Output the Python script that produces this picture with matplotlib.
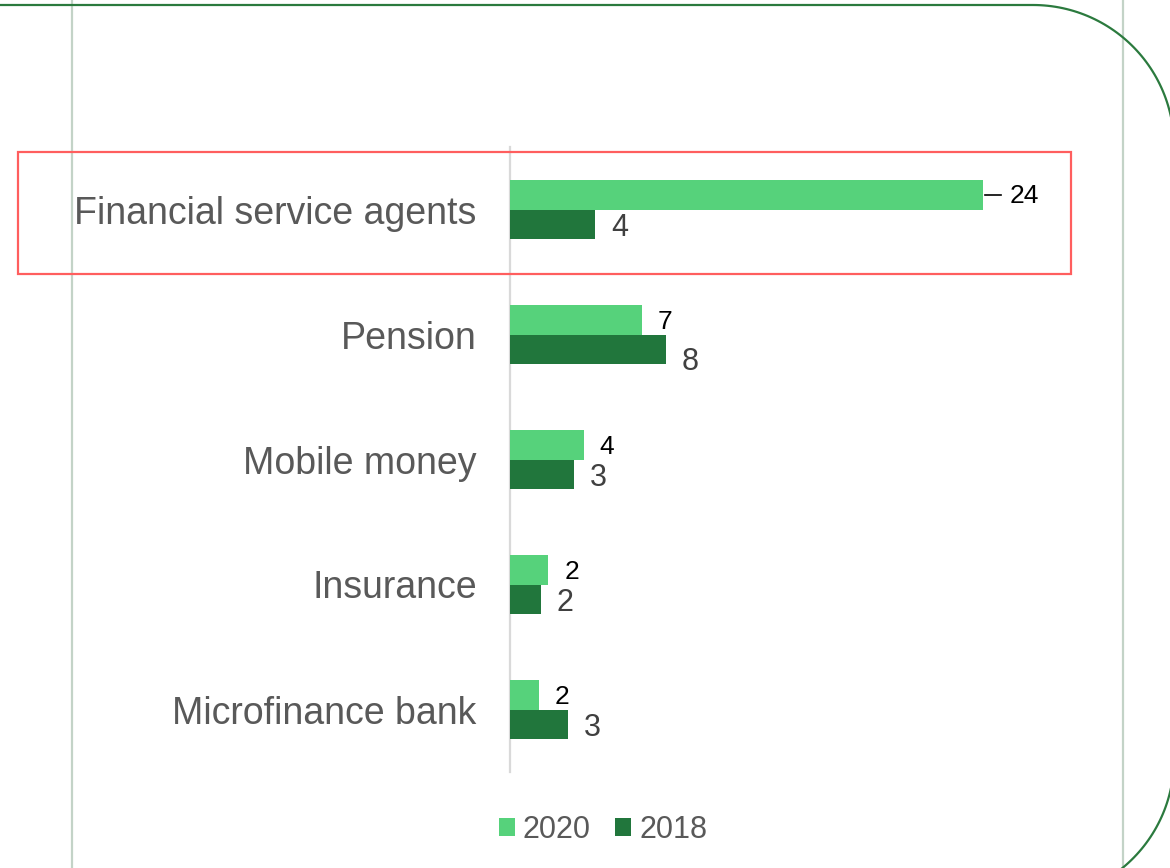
import matplotlib

matplotlib.use("Agg")

import matplotlib.pyplot as plt
import numpy as np
from matplotlib.patches import Rectangle

plt.rcParams["font.family"] = ["Liberation Sans", "DejaVu Sans"]

# data
categories = ["Financial service agents", "Pension", "Mobile money", "Insurance", "Microfinance bank"]
values_2020 = [24.0, 6.70, 3.74, 1.94, 1.46]
values_2018 = [4.31, 7.90, 3.23, 1.57, 2.94]
labels_2020 = ["24", "7", "4", "2", "2"]
labels_2018 = ["4", "8", "3", "2", "3"]
series_names = ["2020", "2018"]

LIGHT = "#56D27B"
DARK = "#21763C"
GRAY_TXT = "#595959"

W, H = 1170, 868
PX_PER_UNIT = 19.7
XMAX = 28
BAR_H = 0.236

fig = plt.figure(figsize=(W / 100, H / 100), dpi=100)
fig.patch.set_facecolor("white")

# main plot area (pixel geometry)
ax_left, ax_top, ax_bottom = 510, 147, 772
ax = fig.add_axes([ax_left / W, 1 - ax_bottom / H,
                   XMAX * PX_PER_UNIT / W, (ax_bottom - ax_top) / H])
ax.set_facecolor("none")

ypos = list(range(len(categories)))
ax.barh([y - BAR_H / 2 for y in ypos], values_2020, height=BAR_H, color=LIGHT,
        label=series_names[0], zorder=3)
ax.barh([y + BAR_H / 2 for y in ypos], values_2018, height=BAR_H, color=DARK,
        label=series_names[1], zorder=3)

ax.set_xlim(0, XMAX)
ax.set_ylim(len(categories) - 0.5, -0.5)
ax.set_yticks(ypos, categories)
ax.tick_params(axis="y", length=0, pad=24, labelsize=27, labelcolor=GRAY_TXT)
ax.set_xticks([])
for side in ("top", "right", "bottom"):
    ax.spines[side].set_visible(False)
ax.spines["left"].set_color("#d9d9d9")
ax.spines["left"].set_linewidth(1.6)

# value labels
for i, (v, lab) in enumerate(zip(values_2020, labels_2020)):
    y = i - BAR_H / 2
    if i == 0:
        # label pushed out with a leader line, as in the original
        ax.plot([v + 2 / PX_PER_UNIT, v + 18 / PX_PER_UNIT], [y, y],
                color="black", lw=1.2, zorder=4)
        ax.annotate(lab, xy=(v, y), xytext=(27, -1), textcoords="offset pixels",
                    ha="left", va="center", fontsize=19, color="black")
    else:
        ax.annotate(lab, xy=(v, y), xytext=(16, -2), textcoords="offset pixels",
                    ha="left", va="center", fontsize=19, color="black")

for i, (v, lab) in enumerate(zip(values_2018, labels_2018)):
    y = i + BAR_H / 2
    dy = -13 if i == 1 else -4
    ax.annotate(lab, xy=(v, y), xytext=(16, dy), textcoords="offset pixels",
                ha="left", va="center", fontsize=22, color="#404040")

fig.legend(loc="center", bbox_to_anchor=(603 / W, 1 - 830 / H), ncol=2,
           frameon=False, fontsize=22, labelcolor=GRAY_TXT,
           handlelength=0.52, handleheight=0.52, handletextpad=0.26,
           columnspacing=0.8, borderaxespad=0)

# slide decoration overlay in pixel coordinates
ov = fig.add_axes([0, 0, 1, 1], zorder=5)
ov.set_xlim(0, W)
ov.set_ylim(H, 0)
ov.axis("off")
ov.patch.set_alpha(0)

for gx in (72, 1123):
    ov.plot([gx, gx], [0, H], color="#c3d3c7", lw=1.6, zorder=1)

# rounded frame: top edge, right corners, right edge (mostly off-canvas)
r, top, right, bottom = 141, 5, 1174, 900
t1 = np.linspace(np.pi / 2, 0, 60)
t2 = np.linspace(0, -np.pi / 2, 60)
fx = np.concatenate([[-10], right - r + r * np.cos(t1), right - r + r * np.cos(t2)])
fy = np.concatenate([[top], top + r - r * np.sin(t1), bottom - r - r * np.sin(t2)])
ov.plot(fx, fy, color="#2B7A3E", lw=1.6, zorder=2, solid_capstyle="butt")

ov.add_patch(Rectangle((18, 152), 1071 - 18, 274 - 152, fill=False,
                       edgecolor="#FF5E5E", lw=1.6, zorder=3))

fig.savefig("out.png", dpi=100, facecolor="white")
